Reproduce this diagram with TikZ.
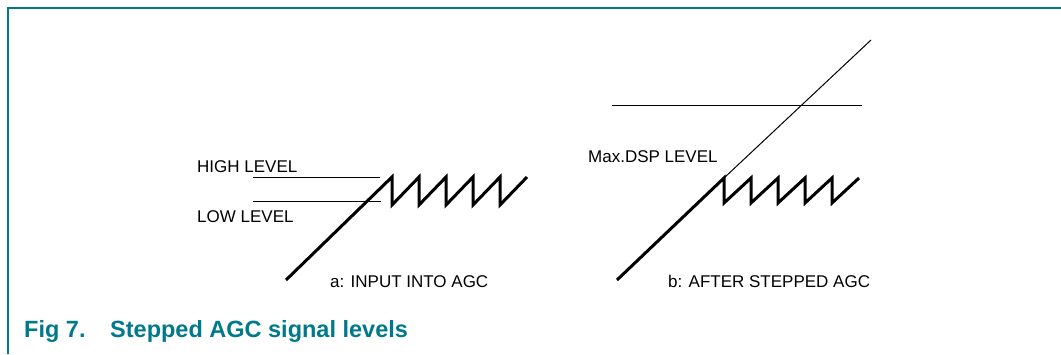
\documentclass[tikz,border=0pt]{standalone}
\usepackage{fontspec}
\setmainfont{Liberation Sans}
\usepackage{xcolor}
\usetikzlibrary{positioning}
\definecolor{figteal}{RGB}{0,122,138}

\begin{document}
\begin{tikzpicture}[x=1pt,y=-1pt,
    lbl/.style={anchor=base west, inner sep=0pt, font=\fontsize{17}{20}\selectfont},
    figcap/.style={anchor=base west, inner sep=0pt, text=figteal, font=\fontsize{23.5}{27}\selectfont\bfseries},
    saw/.style={line width=3pt},
    lvl/.style={line width=1pt}]
    \useasboundingbox (0,0) rectangle (1061,354);
    % frame
    \draw[figteal, line width=1.6pt] (8,354) -- (8,8) -- (1061,8);
    % a: input
    \draw[lvl] (253,177) -- (380,177);
    \draw[lvl] (253,201) -- (381,201);
    \draw[saw] (286,280) -- (392,177) \foreach \k in {0,...,4}{ -- ++(0,28) -- ++(27,-28)};
    \node[lbl] (high) at (197,172) {HIGH LEVEL};
    \node[lbl] (low) at (197,222) {LOW LEVEL};
    \node[lbl] (capa) at (330,287) {a: INPUT INTO AGC};
    % b: after stepped agc
    \draw[lvl] (612,105) -- (862,105);
    \draw[lvl] (724,178) -- (871,40);
    \draw[saw] (617,280) -- (724,178) \foreach \k in {0,...,4}{ -- ++(0,25) -- ++(27,-25)};
    \node[lbl] (maxdsp) at (588,162) {Max.DSP LEVEL};
    \node[lbl] (capb) at (668,287) {b: AFTER STEPPED AGC};
    % caption
    \node[figcap] (fignum) at (24,337) {Fig 7.};
    \node[figcap] (figtitle) at (110,337) {Stepped AGC signal levels};
\end{tikzpicture}
\end{document}
